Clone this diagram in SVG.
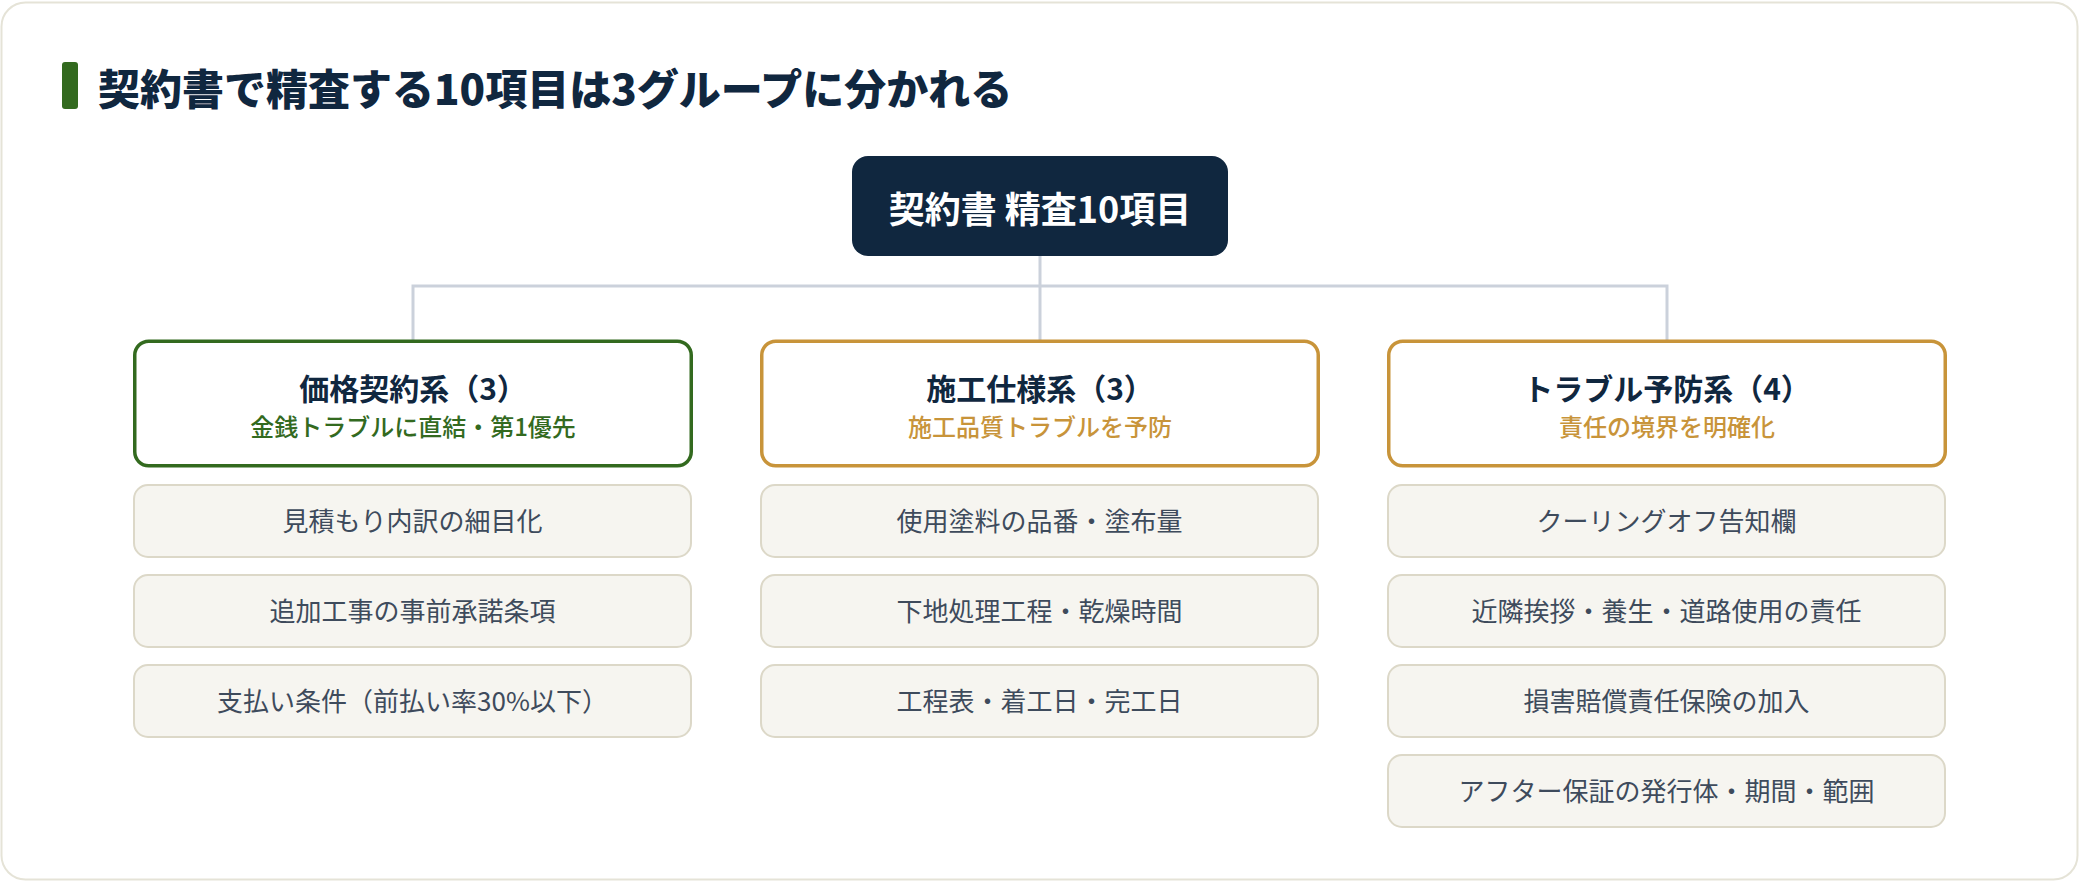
<svg xmlns="http://www.w3.org/2000/svg" width="2080" height="882" viewBox="0 0 2080 882">
<style>
text{font-family:"Noto Sans CJK JP","Noto Sans",sans-serif;text-anchor:middle}
.ttl{font-size:42px;font-weight:800;fill:#10273f;text-anchor:start}
.root{fill:#10273f}
.rootT{font-size:36px;font-weight:700;fill:#ffffff}
.grp{fill:#ffffff;stroke-width:3.5}
.gT{font-size:30px;font-weight:700;fill:#10273f}
.gS{font-size:24px;font-weight:500}
.item{fill:#f6f5f0;stroke:#dcd8c8;stroke-width:2}
.iT{font-size:26px;fill:#3e4b5c}
.conn{fill:none;stroke:#cbd1db;stroke-width:3}
</style>
<rect x="1.5" y="2.5" width="2076" height="877" rx="24" fill="#ffffff" stroke="#e5e3d7" stroke-width="2"/>
<rect x="62" y="62" width="16" height="47" rx="3" fill="#336a1f"/>
<text class="ttl" x="98" y="105">契約書で精査する10項目は3グループに分かれる</text>
<g id="connectors">
<path class="conn" d="M1040 256 V286"/>
<path class="conn" d="M413 340 V286 H1667 V340"/>
<path class="conn" d="M1040 286 V340"/>
</g>
<g id="root">
<rect class="root" x="852" y="156" width="376" height="100" rx="16"/>
<text class="rootT" x="1040" y="223">契約書 精査10項目</text>
</g>
<g id="group-price">
<rect class="grp" x="134.75" y="341.25" width="556.5" height="124.5" rx="14" stroke="#336a1f"/>
<text class="gT" x="413" y="400">価格契約系（3）</text>
<text class="gS" x="413" y="436" fill="#336a1f">金銭トラブルに直結・第1優先</text>
</g>
<g id="group-spec">
<rect class="grp" x="761.75" y="341.25" width="556.5" height="124.5" rx="14" stroke="#c8943a"/>
<text class="gT" x="1040" y="400">施工仕様系（3）</text>
<text class="gS" x="1040" y="436" fill="#c8943a">施工品質トラブルを予防</text>
</g>
<g id="group-prevent">
<rect class="grp" x="1388.75" y="341.25" width="556.5" height="124.5" rx="14" stroke="#c8943a"/>
<text class="gT" x="1667" y="400">トラブル予防系（4）</text>
<text class="gS" x="1667" y="436" fill="#c8943a">責任の境界を明確化</text>
</g>
<g id="item-p1"><rect class="item" x="134" y="485" width="557" height="72" rx="14"/><text class="iT" x="412.5" y="531">見積もり内訳の細目化</text></g>
<g id="item-p2"><rect class="item" x="134" y="575" width="557" height="72" rx="14"/><text class="iT" x="412.5" y="621">追加工事の事前承諾条項</text></g>
<g id="item-p3"><rect class="item" x="134" y="665" width="557" height="72" rx="14"/><text class="iT" x="412.5" y="711">支払い条件（前払い率30%以下）</text></g>
<g id="item-s1"><rect class="item" x="761" y="485" width="557" height="72" rx="14"/><text class="iT" x="1039.5" y="531">使用塗料の品番・塗布量</text></g>
<g id="item-s2"><rect class="item" x="761" y="575" width="557" height="72" rx="14"/><text class="iT" x="1039.5" y="621">下地処理工程・乾燥時間</text></g>
<g id="item-s3"><rect class="item" x="761" y="665" width="557" height="72" rx="14"/><text class="iT" x="1039.5" y="711">工程表・着工日・完工日</text></g>
<g id="item-t1"><rect class="item" x="1388" y="485" width="557" height="72" rx="14"/><text class="iT" x="1666.5" y="531">クーリングオフ告知欄</text></g>
<g id="item-t2"><rect class="item" x="1388" y="575" width="557" height="72" rx="14"/><text class="iT" x="1666.5" y="621">近隣挨拶・養生・道路使用の責任</text></g>
<g id="item-t3"><rect class="item" x="1388" y="665" width="557" height="72" rx="14"/><text class="iT" x="1666.5" y="711">損害賠償責任保険の加入</text></g>
<g id="item-t4"><rect class="item" x="1388" y="755" width="557" height="72" rx="14"/><text class="iT" x="1666.5" y="801">アフター保証の発行体・期間・範囲</text></g>
</svg>
